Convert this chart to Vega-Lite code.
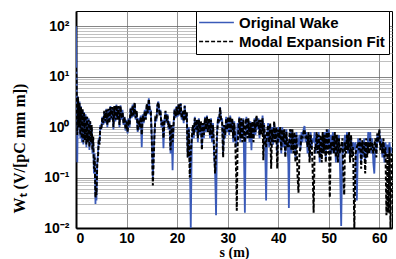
{
"$schema": "https://vega.github.io/schema/vega-lite/v6.json",
"width": 316, "height": 217,
"autosize": {"type": "none"},
"padding": {"left": 76, "top": 11, "right": 4, "bottom": 31},
"background": "white",
"config": {"view": {"stroke": "black", "strokeWidth": 1}},
"data": {"values": [
{"s":0,"o":100,"m":15},{"s":0.1,"o":12,"m":9},{"s":0.25,"o":0.2,"m":0.7},{"s":0.4,"o":4,"m":4},{"s":0.55,"o":1.2,"m":1.0},{"s":0.7,"o":3.2,"m":3},{"s":0.85,"o":0.6,"m":0.7},{"s":1.0,"o":2.6,"m":2.5},{"s":1.15,"o":0.5,"m":0.6},{"s":1.3,"o":2.2,"m":2.3},{"s":1.45,"o":0.45,"m":0.5},{"s":1.6,"o":2,"m":1.9},{"s":1.75,"o":0.6,"m":0.55},{"s":1.9,"o":1.8,"m":1.7},{"s":2.05,"o":0.4,"m":0.45},{"s":2.2,"o":1.6,"m":1.6},{"s":2.35,"o":0.55,"m":0.5},{"s":2.5,"o":1.5,"m":1.4},{"s":2.65,"o":0.35,"m":0.4},{"s":2.8,"o":1.3,"m":1.3},{"s":2.95,"o":0.45,"m":0.5},{"s":3.1,"o":1.0,"m":1.1},{"s":3.25,"o":0.3,"m":0.35},{"s":3.4,"o":0.6,"m":0.65},{"s":3.55,"o":0.12,"m":0.15},{"s":3.7,"o":0.3,"m":0.25},{"s":3.85,"o":0.03,"m":0.04},{"s":3.95,"o":0.12,"m":0.06},{"s":4.05,"o":0.035,"m":0.045},{"s":4.2,"o":0.2,"m":0.18},{"s":4.35,"o":0.3,"m":0.25},{"s":4.5,"o":0.6,"m":0.55},{"s":4.65,"o":0.5,"m":0.45},{"s":4.8,"o":1.1,"m":1.0},{"s":5.0,"o":0.9,"m":0.9},{"s":5.2,"o":1.6,"m":1.5},{"s":5.4,"o":1.1,"m":1.2},{"s":5.6,"o":2.0,"m":2.1},{"s":5.8,"o":1.2,"m":1.3},{"s":6.0,"o":2.3,"m":2.2},{"s":6.2,"o":1.0,"m":1.1},{"s":6.4,"o":2.2,"m":2.3},{"s":6.6,"o":1.3,"m":1.2},{"s":6.8,"o":2.6,"m":2.5},{"s":7.0,"o":1.4,"m":1.5},{"s":7.2,"o":2.4,"m":2.5},{"s":7.4,"o":0.9,"m":1.0},{"s":7.6,"o":2.6,"m":2.6},{"s":7.8,"o":1.3,"m":1.4},{"s":8.0,"o":2.8,"m":2.7},{"s":8.2,"o":1.5,"m":1.4},{"s":8.4,"o":2.5,"m":2.6},{"s":8.6,"o":1.0,"m":1.1},{"s":8.8,"o":2.7,"m":2.6},{"s":9.0,"o":1.4,"m":1.5},{"s":9.2,"o":2.2,"m":2.0},{"s":9.4,"o":1.1,"m":1.2},{"s":9.6,"o":1.6,"m":1.6},{"s":9.8,"o":0.85,"m":0.9},{"s":10.0,"o":1.4,"m":1.3},{"s":10.2,"o":0.75,"m":0.8},{"s":10.4,"o":1.5,"m":1.4},{"s":10.6,"o":1.0,"m":1.1},{"s":10.8,"o":2.4,"m":2.3},{"s":11.0,"o":1.5,"m":1.6},{"s":11.2,"o":2.8,"m":2.7},{"s":11.4,"o":1.6,"m":1.7},{"s":11.6,"o":3.0,"m":3.1},{"s":11.8,"o":1.4,"m":1.5},{"s":12.0,"o":2.0,"m":2.1},{"s":12.2,"o":0.8,"m":0.85},{"s":12.4,"o":1.5,"m":1.4},{"s":12.6,"o":0.9,"m":1.0},{"s":12.8,"o":1.7,"m":1.6},{"s":13.0,"o":0.4,"m":0.7},{"s":13.2,"o":1.8,"m":1.7},{"s":13.4,"o":1.2,"m":1.3},{"s":13.6,"o":2.2,"m":2.1},{"s":13.8,"o":1.5,"m":1.4},{"s":14.0,"o":2.8,"m":2.9},{"s":14.2,"o":1.8,"m":1.9},{"s":14.4,"o":3.7,"m":3.6},{"s":14.6,"o":2.0,"m":2.1},{"s":14.8,"o":2.2,"m":2.0},{"s":15.0,"o":0.6,"m":0.5},{"s":15.2,"o":0.1,"m":0.07},{"s":15.35,"o":0.3,"m":0.2},{"s":15.5,"o":0.7,"m":0.6},{"s":15.7,"o":1.6,"m":1.5},{"s":15.9,"o":1.3,"m":1.4},{"s":16.1,"o":2.8,"m":2.7},{"s":16.3,"o":3.2,"m":3.1},{"s":16.5,"o":1.8,"m":1.9},{"s":16.7,"o":2.2,"m":2.1},{"s":16.9,"o":1.0,"m":1.1},{"s":17.1,"o":1.4,"m":1.3},{"s":17.3,"o":0.38,"m":0.6},{"s":17.5,"o":1.4,"m":1.3},{"s":17.7,"o":2.0,"m":2.1},{"s":17.9,"o":1.2,"m":1.3},{"s":18.1,"o":1.8,"m":1.7},{"s":18.3,"o":0.9,"m":1.0},{"s":18.5,"o":1.3,"m":1.2},{"s":18.7,"o":0.3,"m":0.35},{"s":18.9,"o":1.0,"m":1.1},{"s":19.1,"o":0.14,"m":0.5},{"s":19.3,"o":1.2,"m":1.1},{"s":19.5,"o":2.3,"m":2.2},{"s":19.7,"o":1.5,"m":1.6},{"s":19.9,"o":2.6,"m":2.5},{"s":20.1,"o":1.6,"m":1.7},{"s":20.3,"o":2.8,"m":2.9},{"s":20.5,"o":1.7,"m":1.8},{"s":20.7,"o":3.0,"m":2.9},{"s":20.9,"o":1.4,"m":1.5},{"s":21.1,"o":2.0,"m":2.1},{"s":21.3,"o":1.2,"m":1.3},{"s":21.5,"o":2.7,"m":2.6},{"s":21.7,"o":1.5,"m":1.4},{"s":21.9,"o":1.9,"m":2.0},{"s":22.1,"o":0.25,"m":0.25},{"s":22.3,"o":1.0,"m":0.9},{"s":22.5,"o":0.4,"m":0.1},{"s":22.7,"o":0.01,"m":0.3},{"s":22.9,"o":0.5,"m":0.6},{"s":23.1,"o":1.0,"m":1.1},{"s":23.3,"o":0.6,"m":0.7},{"s":23.5,"o":1.6,"m":1.5},{"s":23.7,"o":0.8,"m":0.9},{"s":23.9,"o":1.3,"m":1.4},{"s":24.1,"o":0.5,"m":0.6},{"s":24.3,"o":1.5,"m":1.4},{"s":24.5,"o":0.7,"m":0.8},{"s":24.7,"o":1.2,"m":1.3},{"s":24.9,"o":0.4,"m":0.35},{"s":25.1,"o":1.1,"m":1.2},{"s":25.3,"o":0.6,"m":0.7},{"s":25.5,"o":1.6,"m":1.5},{"s":25.7,"o":0.8,"m":0.9},{"s":25.9,"o":1.7,"m":1.6},{"s":26.1,"o":0.9,"m":0.8},{"s":26.3,"o":1.4,"m":1.5},{"s":26.5,"o":0.6,"m":0.7},{"s":26.7,"o":1.5,"m":1.4},{"s":26.9,"o":0.5,"m":0.6},{"s":27.1,"o":1.2,"m":1.1},{"s":27.3,"o":0.3,"m":0.4},{"s":27.5,"o":0.15,"m":0.12},{"s":27.7,"o":0.018,"m":0.3},{"s":27.9,"o":0.8,"m":0.7},{"s":28.1,"o":1.6,"m":1.5},{"s":28.3,"o":1.2,"m":1.3},{"s":28.5,"o":2.5,"m":2.4},{"s":28.7,"o":1.3,"m":1.4},{"s":28.9,"o":1.5,"m":1.3},{"s":29.1,"o":0.3,"m":0.25},{"s":29.3,"o":1.0,"m":1.1},{"s":29.5,"o":0.6,"m":0.7},{"s":29.7,"o":1.6,"m":1.5},{"s":29.9,"o":0.8,"m":0.9},{"s":30.1,"o":1.5,"m":1.6},{"s":30.3,"o":0.7,"m":0.8},{"s":30.5,"o":1.7,"m":1.6},{"s":30.7,"o":0.9,"m":0.8},{"s":30.9,"o":1.4,"m":1.5},{"s":31.1,"o":0.5,"m":0.6},{"s":31.3,"o":1.3,"m":1.2},{"s":31.5,"o":0.6,"m":0.5},{"s":31.7,"o":0.4,"m":0.1},{"s":31.8,"o":0.5,"m":0.022},{"s":31.95,"o":1.2,"m":0.4},{"s":32.1,"o":0.7,"m":0.8},{"s":32.3,"o":1.6,"m":1.5},{"s":32.5,"o":0.5,"m":0.6},{"s":32.7,"o":1.4,"m":1.5},{"s":32.9,"o":0.6,"m":0.5},{"s":33.1,"o":1.5,"m":1.4},{"s":33.3,"o":0.1,"m":0.6},{"s":33.4,"o":0.02,"m":0.5},{"s":33.55,"o":0.5,"m":1.2},{"s":33.7,"o":1.6,"m":1.5},{"s":33.9,"o":0.7,"m":0.6},{"s":34.1,"o":1.4,"m":1.5},{"s":34.3,"o":0.5,"m":0.6},{"s":34.5,"o":1.3,"m":1.2},{"s":34.7,"o":0.35,"m":0.6},{"s":34.9,"o":1.2,"m":1.3},{"s":35.1,"o":0.6,"m":0.5},{"s":35.3,"o":1.5,"m":1.4},{"s":35.5,"o":0.7,"m":0.8},{"s":35.7,"o":1.6,"m":1.7},{"s":35.9,"o":0.9,"m":1.0},{"s":36.1,"o":1.5,"m":1.4},{"s":36.3,"o":0.6,"m":0.7},{"s":36.5,"o":1.3,"m":1.4},{"s":36.7,"o":0.8,"m":0.7},{"s":36.9,"o":1.7,"m":1.5},{"s":37.05,"o":0.9,"m":0.22},{"s":37.2,"o":1.2,"m":1.1},{"s":37.4,"o":0.5,"m":0.6},{"s":37.6,"o":0.035,"m":0.4},{"s":37.8,"o":0.7,"m":0.8},{"s":38.0,"o":1.2,"m":1.1},{"s":38.2,"o":0.4,"m":0.5},{"s":38.4,"o":1.1,"m":1.2},{"s":38.6,"o":0.5,"m":0.15},{"s":38.8,"o":1.0,"m":0.9},{"s":39.0,"o":0.45,"m":0.5},{"s":39.2,"o":1.2,"m":1.3},{"s":39.4,"o":0.6,"m":0.5},{"s":39.6,"o":0.9,"m":1.0},{"s":39.8,"o":0.3,"m":0.15},{"s":40.0,"o":1.0,"m":0.9},{"s":40.2,"o":0.5,"m":0.6},{"s":40.4,"o":0.9,"m":1.0},{"s":40.6,"o":0.3,"m":0.35},{"s":40.8,"o":1.0,"m":0.9},{"s":41.0,"o":0.4,"m":0.5},{"s":41.2,"o":0.8,"m":0.9},{"s":41.4,"o":0.3,"m":0.25},{"s":41.6,"o":0.9,"m":0.8},{"s":41.8,"o":0.5,"m":0.4},{"s":42.0,"o":0.2,"m":0.5},{"s":42.1,"o":0.025,"m":0.4},{"s":42.25,"o":0.5,"m":0.8},{"s":42.4,"o":0.9,"m":0.9},{"s":42.6,"o":0.3,"m":0.35},{"s":42.8,"o":0.8,"m":0.9},{"s":43.0,"o":0.4,"m":0.3},{"s":43.2,"o":0.7,"m":0.8},{"s":43.4,"o":0.25,"m":0.2},{"s":43.6,"o":0.8,"m":0.7},{"s":43.8,"o":0.4,"m":0.12},{"s":44.0,"o":0.5,"m":0.05},{"s":44.2,"o":0.7,"m":0.3},{"s":44.4,"o":0.35,"m":0.4},{"s":44.6,"o":0.8,"m":0.7},{"s":44.8,"o":0.5,"m":0.6},{"s":45.0,"o":0.9,"m":0.8},{"s":45.2,"o":1.05,"m":0.9},{"s":45.4,"o":0.5,"m":0.6},{"s":45.6,"o":0.8,"m":0.7},{"s":45.8,"o":0.3,"m":0.4},{"s":46.0,"o":0.7,"m":0.8},{"s":46.2,"o":0.25,"m":0.2},{"s":46.4,"o":0.8,"m":0.7},{"s":46.6,"o":0.4,"m":0.5},{"s":46.8,"o":0.6,"m":0.15},{"s":47.0,"o":0.5,"m":0.02},{"s":47.2,"o":0.8,"m":0.4},{"s":47.4,"o":0.3,"m":0.35},{"s":47.6,"o":0.7,"m":0.8},{"s":47.8,"o":0.35,"m":0.3},{"s":48.0,"o":0.8,"m":0.7},{"s":48.2,"o":0.2,"m":0.25},{"s":48.4,"o":0.6,"m":0.7},{"s":48.6,"o":0.3,"m":0.2},{"s":48.8,"o":0.75,"m":0.8},{"s":49.0,"o":0.35,"m":0.3},{"s":49.2,"o":0.8,"m":0.7},{"s":49.4,"o":0.25,"m":0.2},{"s":49.6,"o":0.85,"m":0.9},{"s":49.8,"o":0.4,"m":0.3},{"s":50.0,"o":0.9,"m":0.8},{"s":50.2,"o":0.3,"m":0.04},{"s":50.4,"o":0.7,"m":0.5},{"s":50.6,"o":0.3,"m":0.35},{"s":50.8,"o":0.8,"m":0.7},{"s":51.0,"o":0.4,"m":0.3},{"s":51.2,"o":0.7,"m":0.8},{"s":51.4,"o":0.2,"m":0.25},{"s":51.6,"o":0.6,"m":0.7},{"s":51.8,"o":0.3,"m":0.2},{"s":52.0,"o":0.7,"m":0.6},{"s":52.2,"o":0.2,"m":0.3},{"s":52.45,"o":0.011,"m":0.4},{"s":52.7,"o":0.5,"m":0.6},{"s":52.9,"o":0.3,"m":0.1},{"s":53.05,"o":0.5,"m":0.045},{"s":53.2,"o":0.7,"m":0.5},{"s":53.4,"o":0.35,"m":0.3},{"s":53.6,"o":0.8,"m":0.7},{"s":53.8,"o":0.3,"m":0.35},{"s":54.0,"o":0.75,"m":0.8},{"s":54.2,"o":0.25,"m":0.2},{"s":54.4,"o":0.6,"m":0.7},{"s":54.6,"o":0.3,"m":0.25},{"s":54.8,"o":0.5,"m":0.4},{"s":55.05,"o":0.4,"m":0.01},{"s":55.3,"o":0.5,"m":0.3},{"s":55.55,"o":0.035,"m":0.4},{"s":55.8,"o":0.6,"m":0.5},{"s":56.0,"o":0.3,"m":0.35},{"s":56.2,"o":0.55,"m":0.6},{"s":56.4,"o":0.2,"m":0.15},{"s":56.6,"o":0.5,"m":0.55},{"s":56.8,"o":0.25,"m":0.3},{"s":57.0,"o":0.6,"m":0.5},{"s":57.2,"o":0.2,"m":0.12},{"s":57.4,"o":0.5,"m":0.6},{"s":57.6,"o":0.3,"m":0.25},{"s":57.8,"o":0.8,"m":0.5},{"s":58.0,"o":0.4,"m":0.3},{"s":58.2,"o":0.8,"m":0.6},{"s":58.4,"o":0.3,"m":0.35},{"s":58.6,"o":0.6,"m":0.5},{"s":58.8,"o":0.2,"m":0.3},{"s":59.0,"o":0.12,"m":0.4},{"s":59.2,"o":0.5,"m":0.6},{"s":59.4,"o":0.3,"m":0.25},{"s":59.6,"o":0.7,"m":0.75},{"s":59.8,"o":0.5,"m":0.5},{"s":60.0,"o":0.85,"m":0.9},{"s":60.2,"o":0.4,"m":0.35},{"s":60.4,"o":0.6,"m":0.5},{"s":60.6,"o":0.25,"m":0.3},{"s":60.8,"o":0.5,"m":0.6},{"s":61.0,"o":0.2,"m":0.25},{"s":61.2,"o":0.5,"m":0.4},{"s":61.4,"o":0.3,"m":0.018},{"s":61.6,"o":0.45,"m":0.3},{"s":61.8,"o":0.3,"m":0.02},{"s":62.0,"o":0.5,"m":0.4},{"s":62.2,"o":0.3,"m":0.01},{"s":62.4,"o":0.4,"m":0.3}
]},
"encoding": {
  "x": {"field": "s", "type": "quantitative",
    "scale": {"domain": [0, 62.5], "nice": false, "zero": false},
    "axis": {"values": [0,10,20,30,40,50,60], "title": "s (m)", "grid": true, "gridColor": "#777", "gridWidth": 0.8,
      "domainColor": "black", "domainWidth": 2, "ticks": false, "labelPadding": 3,
      "labelFont": "Liberation Sans", "labelFontWeight": "bold", "labelFontSize": 14, "labelColor": "black",
      "titleFont": "Liberation Serif", "titleFontWeight": "bold", "titleFontSize": 14, "titleColor": "black", "titlePadding": 0}}
},
"layer": [
  {"mark": {"type": "line", "strokeWidth": 1.8, "clip": true},
   "encoding": {
     "y": {"field": "o", "type": "quantitative",
       "scale": {"type": "log", "domain": [0.01, 200], "nice": false},
       "axis": {
         "values": [0.01,0.02,0.03,0.04,0.05,0.06,0.07,0.08,0.09,0.1,0.2,0.3,0.4,0.5,0.6,0.7,0.8,0.9,1,2,3,4,5,6,7,8,9,10,20,30,40,50,60,70,80,90,100],
         "labelExpr": "datum.value == 0.01 ? '10⁻²' : datum.value == 0.1 ? '10⁻¹' : datum.value == 1 ? '10⁰' : datum.value == 10 ? '10¹' : datum.value == 100 ? '10²' : ''",
         "labelOverlap": false, "labelFlush": false, "ticks": false, "labelPadding": 7,
         "grid": true,
         "gridColor": {"condition": {"test": "datum.value == 0.01 || datum.value == 0.1 || datum.value == 1 || datum.value == 10 || datum.value == 100", "value": "#666"}, "value": "#b0b0b0"},
         "gridWidth": 0.8,
         "domainColor": "black", "domainWidth": 2,
         "labelFont": "Liberation Sans", "labelFontWeight": "bold", "labelFontSize": 14, "labelColor": "black",
         "title": "Wₜ (V/[pC mm m])", "titleFont": "Liberation Serif", "titleFontWeight": "bold", "titleFontSize": 16, "titleColor": "black",
         "titleAngle": 270, "titleX": -57, "titleY": 137, "titleAlign": "center", "titleBaseline": "middle"}},
     "color": {"datum": "Original Wake", "type": "nominal",
       "scale": {"domain": ["Original Wake", "Modal Expansion Fit"], "range": ["#3a5ab8", "#000000"]},
       "legend": {"title": null, "orient": "none", "legendX": 120, "legendY": 0,
         "symbolType": "M-2.9,0H2.9", "symbolSize": 144, "symbolStrokeWidth": 1.6,
         "labelFont": "Liberation Sans", "labelFontWeight": "bold", "labelFontSize": 15, "labelColor": "black",
         "labelOffset": 15, "rowPadding": 3, "padding": 4, "strokeColor": "black", "fillColor": "white", "symbolOffset": 9}},
     "strokeDash": {"datum": "Original Wake", "type": "nominal",
       "scale": {"domain": ["Original Wake", "Modal Expansion Fit"], "range": [[1, 0], [4, 2]]},
       "legend": {"title": null, "orient": "none", "legendX": 120, "legendY": 0,
         "symbolType": "M-2.9,0H2.9", "symbolSize": 144, "symbolStrokeWidth": 1.6,
         "labelFont": "Liberation Sans", "labelFontWeight": "bold", "labelFontSize": 15, "labelColor": "black",
         "labelOffset": 15, "rowPadding": 3, "padding": 4, "strokeColor": "black", "fillColor": "white", "symbolOffset": 9}}
   }},
  {"mark": {"type": "line", "strokeWidth": 2, "clip": true},
   "encoding": {
     "y": {"field": "m", "type": "quantitative"},
     "color": {"datum": "Modal Expansion Fit", "type": "nominal"},
     "strokeDash": {"datum": "Modal Expansion Fit", "type": "nominal"}
   }}
]
}
